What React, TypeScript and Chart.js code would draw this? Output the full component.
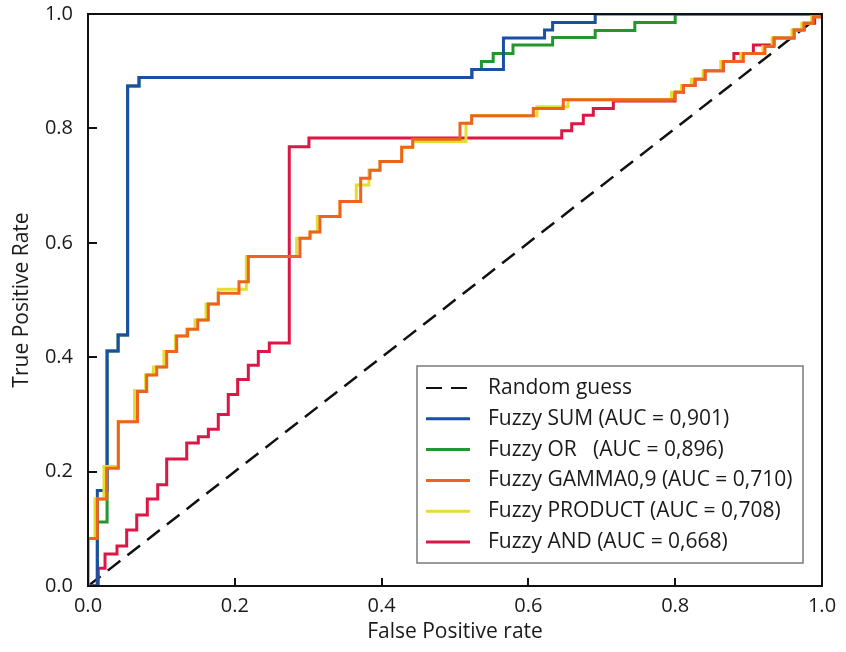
import React, { useEffect, useRef } from 'react';
import { Chart, registerables } from 'chart.js';

Chart.register(...registerables);

// ---- Data ----
const X_TICK_LABELS = ['0.0', '0.2', '0.4', '0.6', '0.8', '1.0'];
const Y_TICK_LABELS = ['0.0', '0.2', '0.4', '0.6', '0.8', '1.0'];

const RANDOM_FPR = [0, 1];
const RANDOM_TPR = [0, 1];

const SUM_FPR = [0, 0.0127, 0.026, 0.041, 0.054, 0.0695, 0.523, 0.566, 0.622, 0.633, 0.691, 1];
const SUM_TPR = [0, 0.167, 0.411, 0.439, 0.874, 0.889, 0.903, 0.958, 0.972, 0.985, 1.0, 1];

const OR_FPR = [0, 0.0127, 0.026, 0.041, 0.054, 0.0695, 0.523, 0.536, 0.552, 0.579, 0.633, 0.691, 0.745, 0.8, 1];
const OR_TPR = [0, 0.112, 0.411, 0.439, 0.874, 0.889, 0.903, 0.917, 0.931, 0.946, 0.959, 0.971, 0.985, 1.0, 1];

const GAMMA_FPR = [0, 0, 0.0127, 0.0255, 0.0413, 0.0674, 0.08, 0.0936, 0.1072, 0.1208, 0.1358, 0.1495, 0.1639, 0.1775, 0.2057, 0.2184, 0.2888, 0.3025, 0.316, 0.3433, 0.3715, 0.3842, 0.3978, 0.4274, 0.4424, 0.5068, 0.5227, 0.6067, 0.6475, 0.7997, 0.811, 0.827, 0.8406, 0.8655, 0.8928, 0.9223, 0.9346, 0.9619, 0.9755, 0.9881, 0.9973, 1];
const GAMMA_TPR = [0, 0.083, 0.152, 0.206, 0.287, 0.34, 0.369, 0.383, 0.41, 0.437, 0.449, 0.465, 0.493, 0.512, 0.532, 0.576, 0.608, 0.619, 0.646, 0.672, 0.713, 0.727, 0.742, 0.767, 0.781, 0.809, 0.822, 0.835, 0.85, 0.863, 0.875, 0.886, 0.901, 0.917, 0.931, 0.943, 0.958, 0.972, 0.984, 0.995, 1.0, 1];

const PRODUCT_FPR = [0, 0, 0.0095, 0.0218, 0.0413, 0.0634, 0.0785, 0.089, 0.1035, 0.119, 0.134, 0.1458, 0.1608, 0.1775, 0.2157, 0.2843, 0.3025, 0.3124, 0.3433, 0.3655, 0.3828, 0.3978, 0.4274, 0.4424, 0.515, 0.5227, 0.6117, 0.654, 0.795, 0.8085, 0.822, 0.838, 0.862, 0.8895, 0.9195, 0.932, 0.959, 0.9725, 0.986, 0.996, 1];
const PRODUCT_TPR = [0, 0.083, 0.152, 0.209, 0.287, 0.342, 0.369, 0.383, 0.41, 0.437, 0.449, 0.465, 0.493, 0.519, 0.576, 0.608, 0.619, 0.646, 0.672, 0.701, 0.727, 0.742, 0.767, 0.777, 0.809, 0.822, 0.838, 0.85, 0.863, 0.875, 0.886, 0.901, 0.917, 0.931, 0.943, 0.958, 0.972, 0.984, 0.995, 1.0, 1];

const AND_FPR = [0, 0.014, 0.0232, 0.0395, 0.0527, 0.0664, 0.0808, 0.095, 0.1072, 0.1345, 0.1503, 0.164, 0.1775, 0.1911, 0.2039, 0.2184, 0.232, 0.247, 0.2742, 0.301, 0.6454, 0.659, 0.6748, 0.6884, 0.7157, 0.7997, 0.811, 0.827, 0.8406, 0.8655, 0.88, 0.9065, 0.9346, 0.9619, 0.9755, 0.99, 1];
const AND_TPR = [0, 0.031, 0.056, 0.07, 0.098, 0.124, 0.152, 0.177, 0.222, 0.25, 0.261, 0.274, 0.3, 0.335, 0.361, 0.386, 0.41, 0.425, 0.768, 0.783, 0.796, 0.808, 0.823, 0.835, 0.848, 0.863, 0.875, 0.886, 0.901, 0.917, 0.931, 0.946, 0.958, 0.972, 0.984, 0.995, 1];

const SERIES_LABELS = [
  'Random guess',
  'Fuzzy SUM (AUC = 0,901)',
  'Fuzzy OR   (AUC = 0,896)',
  'Fuzzy GAMMA0,9 (AUC = 0,710)',
  'Fuzzy PRODUCT (AUC = 0,708)',
  'Fuzzy AND (AUC = 0,668)',
];
const SERIES_COLORS = ['#111111', '#1a4fa5', '#23962f', '#ec6420', '#e2df2e', '#dc1745'];

const FONT = "'Open Sans', 'Noto Sans', sans-serif";
const TEXT_COLOR = '#1a1a1a';

function pts(xs: number[], ys: number[]) {
  return xs.map((x, i) => ({ x, y: ys[i] }));
}

const boxPlugin = {
  id: 'boxAndTicks',
  afterDatasetsDraw(chart: any) {
    const ctx = chart.ctx;
    const { left, top, right, bottom } = chart.chartArea;
    ctx.save();
    ctx.strokeStyle = '#111';
    ctx.lineWidth = 2;
    ctx.strokeRect(left, top, right - left, bottom - top);
    const xs = chart.scales.x;
    xs.ticks.forEach((t: any) => {
      if (t.value <= 0.0001 || t.value >= 0.9999) return;
      const px = Math.round(xs.getPixelForValue(t.value));
      ctx.beginPath();
      ctx.moveTo(px, bottom);
      ctx.lineTo(px, bottom - 8);
      ctx.stroke();
    });
    const ys = chart.scales.y;
    ys.ticks.forEach((t: any) => {
      if (t.value <= 0.0001 || t.value >= 0.9999) return;
      const py = Math.round(ys.getPixelForValue(t.value));
      ctx.beginPath();
      ctx.moveTo(left, py);
      ctx.lineTo(left + 9, py);
      ctx.stroke();
    });
    ctx.restore();
  },
};

const legendPlugin = {
  id: 'boxLegend',
  afterDraw(chart: any) {
    const ctx = chart.ctx;
    const { right, bottom } = chart.chartArea;
    const w = 386;
    const h = 197;
    const bx = right - 19 - w;
    const by = bottom - 23 - h;
    ctx.save();
    ctx.fillStyle = '#ffffff';
    ctx.fillRect(bx, by, w, h);
    ctx.strokeStyle = '#7a7a7a';
    ctx.lineWidth = 1.5;
    ctx.strokeRect(bx, by, w, h);
    const ds = chart.data.datasets;
    ds.forEach((d: any, i: number) => {
      const cy = by + 22 + i * 30.8;
      ctx.beginPath();
      ctx.strokeStyle = d.borderColor;
      ctx.lineWidth = i === 0 ? 2.2 : 3;
      ctx.setLineDash(i === 0 ? [16, 9] : []);
      ctx.moveTo(bx + 9, cy);
      ctx.lineTo(bx + 53, cy);
      ctx.stroke();
      ctx.setLineDash([]);
      ctx.fillStyle = TEXT_COLOR;
      ctx.font = `21px ${FONT}`;
      ctx.textBaseline = 'middle';
      ctx.textAlign = 'left';
      ctx.fillText(d.label, bx + 71, cy);
    });
    ctx.restore();
  },
};

export default function App() {
  const canvasRef = useRef<HTMLCanvasElement | null>(null);

  useEffect(() => {
    if (!canvasRef.current) return;
    const series = [
      { fpr: RANDOM_FPR, tpr: RANDOM_TPR, order: 5 },
      { fpr: SUM_FPR, tpr: SUM_TPR, order: 2 },
      { fpr: OR_FPR, tpr: OR_TPR, order: 4 },
      { fpr: GAMMA_FPR, tpr: GAMMA_TPR, order: 0 },
      { fpr: PRODUCT_FPR, tpr: PRODUCT_TPR, order: 1 },
      { fpr: AND_FPR, tpr: AND_TPR, order: 3 },
    ];
    const datasets = series.map((s, i) => ({
      label: SERIES_LABELS[i],
      data: pts(s.fpr, s.tpr),
      borderColor: SERIES_COLORS[i],
      backgroundColor: SERIES_COLORS[i],
      borderWidth: i === 0 ? 2.5 : 3,
      borderDash: i === 0 ? [16, 9] : [],
      pointRadius: 0,
      fill: false,
      stepped: i === 0 ? false : 'before',
      order: s.order,
      clip: 0,
    }));

    const chart = new Chart(canvasRef.current, {
      type: 'line',
      data: { datasets } as any,
      options: {
        animation: false,
        responsive: false,
        devicePixelRatio: 1,
        layout: { padding: { top: 14, right: 24, left: 0, bottom: 0 } },
        plugins: { legend: { display: false }, tooltip: { enabled: false } },
        scales: {
          x: {
            type: 'linear',
            min: 0,
            max: 1,
            grid: { display: false, drawTicks: false },
            border: { display: false },
            ticks: {
              stepSize: 0.2,
              padding: 8,
              color: TEXT_COLOR,
              font: { family: FONT, size: 20 },
              maxRotation: 0,
              callback: (_v: any, idx: number) => X_TICK_LABELS[idx],
            },
            title: {
              display: true,
              text: 'False Positive rate',
              color: TEXT_COLOR,
              font: { family: FONT, size: 21 },
              padding: { top: 0, bottom: 7 },
            },
            afterFit: (scale: any) => {
              scale.height = 66;
              scale.paddingLeft = 0;
              scale.paddingRight = 0;
              scale.paddingTop = 0;
              scale.paddingBottom = 0;
            },
          },
          y: {
            type: 'linear',
            min: 0,
            max: 1,
            grid: { display: false, drawTicks: false },
            border: { display: false },
            ticks: {
              stepSize: 0.2,
              padding: 15,
              color: TEXT_COLOR,
              font: { family: FONT, size: 20 },
              callback: (_v: any, idx: number) => Y_TICK_LABELS[idx],
            },
            title: {
              display: true,
              text: 'True Positive Rate',
              color: TEXT_COLOR,
              font: { family: FONT, size: 21 },
              padding: { top: 9, bottom: 0 },
            },
            afterFit: (scale: any) => {
              scale.width = 88;
              scale.paddingTop = 0;
              scale.paddingBottom = 0;
              scale.paddingLeft = 0;
              scale.paddingRight = 0;
            },
          },
        },
      } as any,
      plugins: [boxPlugin, legendPlugin],
    });
    return () => chart.destroy();
  }, []);

  return (
    <div style={{ position: 'absolute', left: 0, top: 0, width: 846, height: 652, background: '#fff' }}>
      <canvas ref={canvasRef} width={846} height={652} style={{ display: 'block' }} />
    </div>
  );
}
